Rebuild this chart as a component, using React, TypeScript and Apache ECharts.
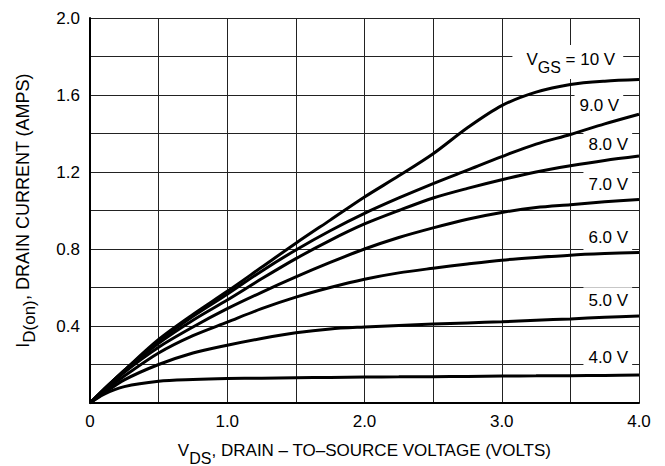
import React, { useEffect, useRef } from "react";
import * as echarts from "echarts";

const VDS = [0, 0.1, 0.25, 0.5, 0.75, 1.0, 1.25, 1.5, 1.75, 2.0, 2.25, 2.5, 2.75, 3.0, 3.25, 3.5, 3.75, 4.0];

const ID_10V = [0, 0.07, 0.17, 0.33, 0.46, 0.58, 0.705, 0.83, 0.95, 1.07, 1.18, 1.295, 1.43, 1.545, 1.615, 1.655, 1.672, 1.68];
const ID_9V = [0, 0.07, 0.17, 0.32, 0.45, 0.565, 0.685, 0.795, 0.895, 0.985, 1.065, 1.14, 1.21, 1.28, 1.345, 1.395, 1.45, 1.5];
const ID_8V = [0, 0.07, 0.165, 0.31, 0.43, 0.535, 0.645, 0.75, 0.845, 0.93, 1.0, 1.065, 1.115, 1.16, 1.2, 1.232, 1.26, 1.283];
const ID_7V = [0, 0.065, 0.16, 0.29, 0.395, 0.49, 0.575, 0.655, 0.73, 0.8, 0.86, 0.91, 0.955, 0.99, 1.015, 1.03, 1.045, 1.057];
const ID_6V = [0, 0.06, 0.14, 0.26, 0.35, 0.42, 0.49, 0.55, 0.6, 0.643, 0.676, 0.7, 0.722, 0.742, 0.756, 0.768, 0.776, 0.782];
const ID_5V = [0, 0.05, 0.12, 0.2, 0.26, 0.3, 0.335, 0.365, 0.385, 0.395, 0.403, 0.41, 0.416, 0.422, 0.43, 0.437, 0.445, 0.452];
const ID_4V = [0, 0.045, 0.085, 0.113, 0.122, 0.127, 0.129, 0.131, 0.133, 0.135, 0.136, 0.137, 0.138, 0.14, 0.141, 0.142, 0.143, 0.145];

const SERIES_NAMES = ["10 V", "9.0 V", "8.0 V", "7.0 V", "6.0 V", "5.0 V", "4.0 V"];
const SERIES_DATA = [ID_10V, ID_9V, ID_8V, ID_7V, ID_6V, ID_5V, ID_4V];

// label anchors (data units: right edge V, vertical centre I)
const LABEL_TEXTS = ["{m|V}{s|GS}{m| = 10 V}", "9.0 V", "8.0 V", "7.0 V", "6.0 V", "5.0 V", "4.0 V"];
const LABEL_V = [3.885, 3.885, 3.95, 3.95, 3.95, 3.95, 3.95];
const LABEL_I = [1.771, 1.548, 1.342, 1.134, 0.859, 0.531, 0.235];

const FONT = "'Liberation Sans', Arial, Helvetica, sans-serif";

export default function App() {
  const ref = useRef<HTMLDivElement>(null);
  useEffect(() => {
    if (!ref.current) return;
    const chart = echarts.init(ref.current, undefined, { renderer: "svg" });
    const subRich = {
      m: { fontSize: 17, fontFamily: FONT, color: "#000", lineHeight: 20, verticalAlign: "top" },
      s: { fontSize: 16, fontFamily: FONT, color: "#000", lineHeight: 24, verticalAlign: "bottom" },
    };
    const yRich = {
      m: { fontSize: 18, fontFamily: FONT, color: "#000", lineHeight: 21, verticalAlign: "top" },
      s: { fontSize: 17, fontFamily: FONT, color: "#000", lineHeight: 24, verticalAlign: "bottom" },
    };
    chart.setOption({
      animation: false,
      backgroundColor: "#fff",
      textStyle: { fontFamily: FONT },
      grid: { left: 90, right: 26, top: 18, bottom: 63, containLabel: false, outerBoundsMode: "none" },
      xAxis: {
        type: "value",
        min: 0,
        max: 4,
        interval: 0.5,
        name: "{m|V}{s|DS}{m|, DRAIN – TO–SOURCE VOLTAGE (VOLTS)}",
        nameLocation: "middle",
        nameGap: 39,
        nameTextStyle: { rich: subRich },
        axisLine: { show: true, lineStyle: { color: "#000", width: 2 } },
        axisTick: { show: false },
        axisLabel: {
          color: "#000",
          fontSize: 17,
          fontFamily: FONT,
          margin: 10,
          formatter: (v: number) => {
            const r = Math.round(v * 10);
            if (r % 10 !== 0) return "";
            return r === 0 ? "0" : (r / 10).toFixed(1);
          },
        },
        splitLine: { show: true, lineStyle: { color: "#222", width: 1 } },
      },
      yAxis: {
        type: "value",
        min: 0,
        max: 2,
        interval: 0.2,
        name: "{m|I}{s|D(on)}{m|, DRAIN CURRENT (AMPS)}",
        nameLocation: "middle",
        nameRotate: 90,
        nameGap: 52,
        nameTextStyle: { rich: yRich },
        axisLine: { show: true, lineStyle: { color: "#000", width: 2 } },
        axisTick: { show: false },
        axisLabel: {
          color: "#000",
          fontSize: 17,
          fontFamily: FONT,
          margin: 10,
          formatter: (v: number) => {
            const r = Math.round(v * 10);
            if (r === 0 || r % 4 !== 0) return "";
            return (r / 10).toFixed(1);
          },
        },
        splitLine: { show: true, lineStyle: { color: "#222", width: 1 } },
      },
      series: SERIES_NAMES.map((n, i) => ({
        name: n,
        type: "line",
        z: 3,
        data: VDS.map((x, j) => [x, SERIES_DATA[i][j]]),
        smooth: 0.3,
        showSymbol: false,
        lineStyle: { color: "#000", width: 3 },
      })),
    });
    const graphics = LABEL_TEXTS.map((t, i) => {
      const p = chart.convertToPixel({ gridIndex: 0 }, [LABEL_V[i], LABEL_I[i]]) as number[];
      return {
        type: "text",
        z: 1,
        x: p[0],
        y: p[1],
        style: {
          text: t,
          fill: "#000",
          font: `17px ${FONT}`,
          fontSize: 17,
          fontFamily: FONT,
          align: "right",
          verticalAlign: "middle",
          backgroundColor: "#fff",
          padding: i === 0 ? [6, 8, 4, 14] : [5, 4, 5, 5],
          rich: i === 0 ? subRich : undefined,
        },
      };
    });
    chart.setOption({ graphic: graphics });
    return () => chart.dispose();
  }, []);
  return <div ref={ref} style={{ position: "fixed", left: 0, top: 0, width: 665, height: 466 }} />;
}
